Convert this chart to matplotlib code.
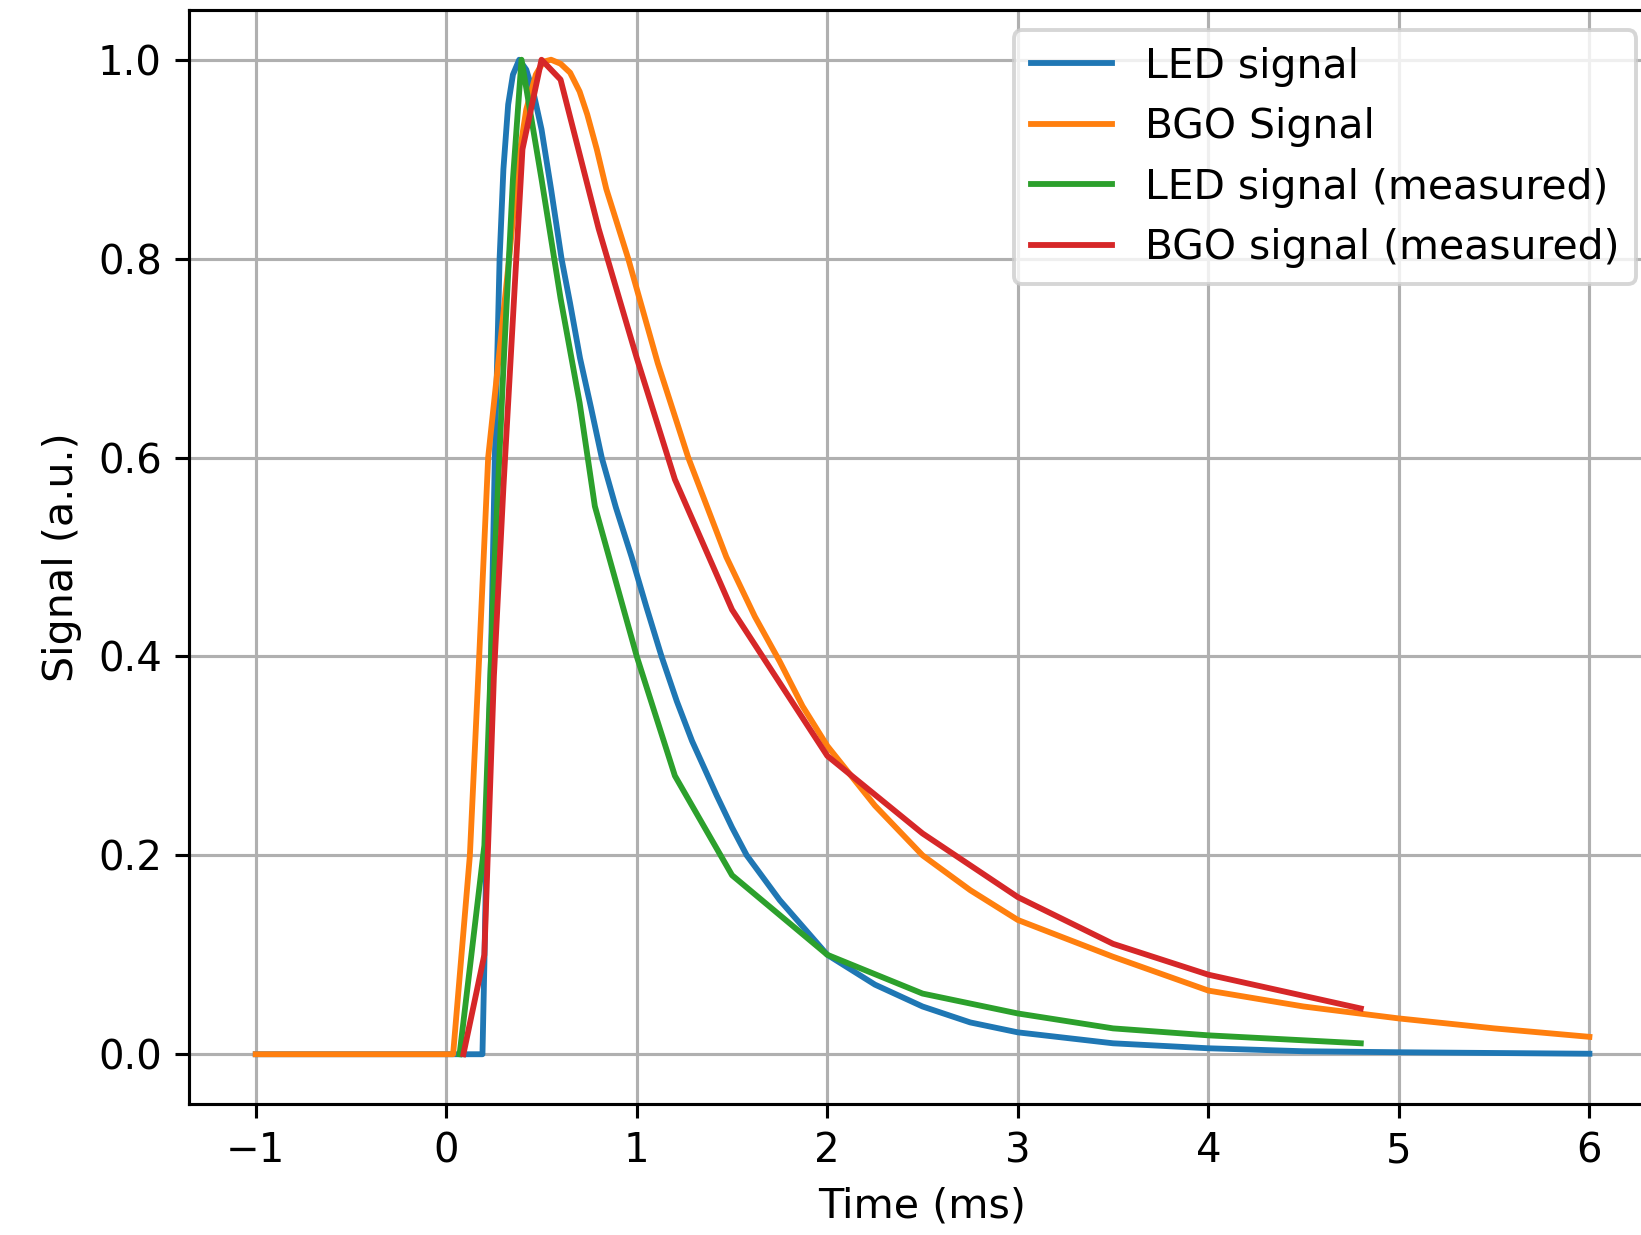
import matplotlib
matplotlib.use("Agg")
import matplotlib.pyplot as plt

# modelled LED pulse (ms, normalised)
led_t = [-1.0, 0.0, 0.19, 0.20, 0.215, 0.235, 0.255, 0.28, 0.30, 0.325,
         0.35, 0.383, 0.42, 0.46, 0.50, 0.55, 0.605, 0.65, 0.702, 0.76,
         0.816, 0.89, 0.973, 1.05, 1.13, 1.21, 1.29, 1.42, 1.50, 1.577,
         1.75, 2.0, 2.25, 2.5, 2.75, 3.0, 3.5, 4.0, 4.5, 5.0, 6.0]
led_y = [0.0, 0.0, 0.0, 0.09, 0.25, 0.40, 0.60, 0.80, 0.89, 0.955,
         0.985, 1.0, 0.99, 0.965, 0.93, 0.87, 0.80, 0.755, 0.70, 0.65,
         0.60, 0.55, 0.50, 0.45, 0.40, 0.355, 0.315, 0.26, 0.228, 0.20,
         0.155, 0.10, 0.07, 0.048, 0.032, 0.022, 0.011, 0.006, 0.003, 0.002,
         0.0005]

# modelled BGO pulse
bgo_t = [-1.0, 0.0, 0.036, 0.08, 0.124, 0.173, 0.22, 0.27, 0.33, 0.38,
         0.42, 0.47, 0.51, 0.55, 0.60, 0.65, 0.70, 0.74, 0.79, 0.84,
         0.955, 1.11, 1.27, 1.47, 1.62, 1.75, 1.87, 2.0, 2.25, 2.5,
         2.75, 3.0, 3.5, 4.0, 4.5, 5.0, 5.5, 6.0]
bgo_y = [0.0, 0.0, 0.0, 0.10, 0.20, 0.40, 0.60, 0.69, 0.80, 0.90,
         0.95, 0.985, 0.998, 1.0, 0.996, 0.987, 0.968, 0.945, 0.91, 0.87,
         0.80, 0.695, 0.60, 0.50, 0.44, 0.395, 0.35, 0.31, 0.25, 0.20,
         0.165, 0.135, 0.098, 0.064, 0.048, 0.036, 0.026, 0.0175]

# measured LED pulse
led_meas_t = [0.07, 0.2, 0.25, 0.3, 0.35, 0.395, 0.5, 0.6, 0.7, 0.78,
              1.0, 1.2, 1.5, 2.0, 2.5, 3.0, 3.5, 4.0, 4.8]
led_meas_y = [0.0, 0.21, 0.48, 0.69, 0.88, 1.0, 0.88, 0.76, 0.655, 0.551,
              0.40, 0.28, 0.18, 0.10, 0.061, 0.041, 0.026, 0.019, 0.011]

# measured BGO pulse
bgo_meas_t = [0.09, 0.2, 0.25, 0.3, 0.4, 0.5, 0.6, 0.7, 0.8, 1.0,
              1.2, 1.5, 2.0, 2.5, 3.0, 3.5, 4.0, 4.8]
bgo_meas_y = [0.0, 0.10, 0.38, 0.57, 0.91, 1.0, 0.98, 0.905, 0.83, 0.70,
              0.578, 0.447, 0.30, 0.222, 0.158, 0.111, 0.08, 0.046]

plt.rcParams["font.size"] = 10.6
plt.rcParams["xtick.labelsize"] = 10.35
plt.rcParams["ytick.labelsize"] = 10.35

fig = plt.figure(figsize=(1641 / 280, 1235 / 280), dpi=280)
ax = fig.add_axes([0.1152, 0.1061, 0.894, 0.8858])

ax.plot(led_t, led_y, label="LED signal")
ax.plot(bgo_t, bgo_y, label="BGO Signal")
ax.plot(led_meas_t, led_meas_y, label="LED signal (measured)")
ax.plot(bgo_meas_t, bgo_meas_y, label="BGO signal (measured)")

ax.set_xlabel("Time (ms)")
ax.set_ylabel("Signal (a.u.)")
ax.grid(True)
ax.legend(loc="upper right", fontsize=10.5)

fig.savefig("out.png", dpi=280)
